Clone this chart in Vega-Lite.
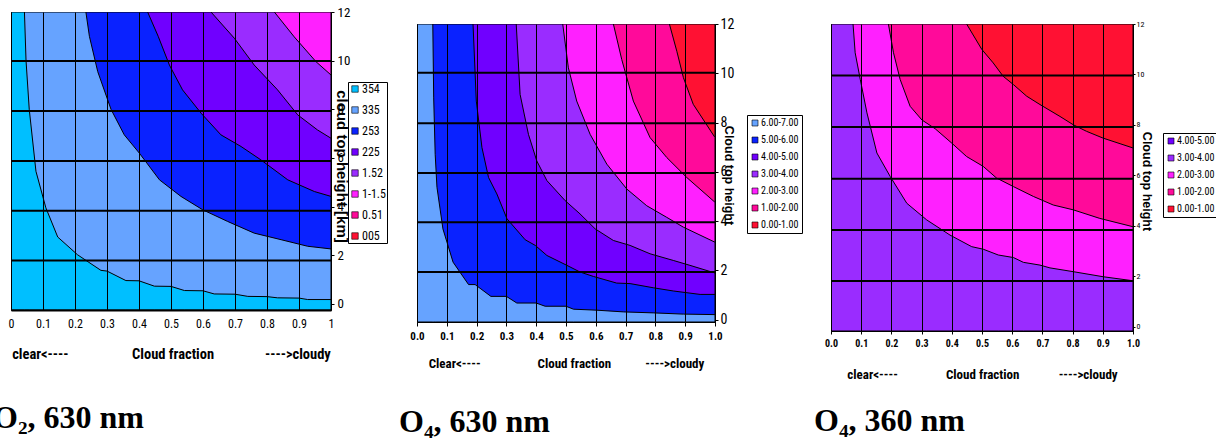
{
  "$schema": "https://vega.github.io/schema/vega-lite/v6.json",
  "background": "white",
  "padding": {"left": -8, "top": 5, "right": 2, "bottom": 0},
  "spacing": 10,
  "resolve": {"scale": {"color": "independent"}, "legend": {"color": "independent"}},
  "config": {
    "view": {"stroke": null},
    "axis": {"labelColor": "black", "titleColor": "black", "tickColor": "black", "domainColor": "black", "gridColor": "black", "gridOpacity": 1, "labelFlush": false, "labelOverlap": false},
    "legend": {"symbolType": "square", "strokeColor": "black", "fillColor": "white", "padding": 2, "labelColor": "black", "symbolStrokeColor": "black", "symbolStrokeWidth": 0.6, "symbolOpacity": 1, "labelOffset": 1, "labelFont": "Roboto Condensed, Liberation Sans Narrow, Liberation Sans, sans-serif", "cornerRadius": 0, "zindex": 2}
  },
  "datasets": {
    "p1": [
      {"b": "1-1.5", "x": 0, "y": 12}, {"b": "1-1.5", "x": 1, "y": 12},
      {"b": "1.52", "x": 0, "y": 12}, {"b": "1.52", "x": 0.823, "y": 12}, {"b": "1.52", "x": 0.885, "y": 10.98}, {"b": "1.52", "x": 0.953, "y": 9.96}, {"b": "1.52", "x": 1, "y": 9.41},
      {"b": "225", "x": 0, "y": 12}, {"b": "225", "x": 0.625, "y": 12}, {"b": "225", "x": 0.698, "y": 10.92}, {"b": "225", "x": 0.76, "y": 9.82}, {"b": "225", "x": 0.833, "y": 8.8}, {"b": "225", "x": 0.896, "y": 7.77}, {"b": "225", "x": 0.958, "y": 7.15}, {"b": "225", "x": 1, "y": 6.81},
      {"b": "253", "x": 0, "y": 12}, {"b": "253", "x": 0.427, "y": 12}, {"b": "253", "x": 0.46, "y": 11.0}, {"b": "253", "x": 0.495, "y": 9.82}, {"b": "253", "x": 0.536, "y": 8.8}, {"b": "253", "x": 0.594, "y": 7.84}, {"b": "253", "x": 0.656, "y": 6.95}, {"b": "253", "x": 0.719, "y": 6.47}, {"b": "253", "x": 0.781, "y": 5.92}, {"b": "253", "x": 0.865, "y": 5.1}, {"b": "253", "x": 0.948, "y": 4.62}, {"b": "253", "x": 1, "y": 4.42},
      {"b": "335", "x": 0, "y": 12}, {"b": "335", "x": 0.234, "y": 12}, {"b": "335", "x": 0.245, "y": 11}, {"b": "335", "x": 0.271, "y": 9.55}, {"b": "335", "x": 0.3125, "y": 8}, {"b": "335", "x": 0.354, "y": 6.95}, {"b": "335", "x": 0.401, "y": 6.2}, {"b": "335", "x": 0.464, "y": 5.1}, {"b": "335", "x": 0.531, "y": 4.42}, {"b": "335", "x": 0.599, "y": 3.87}, {"b": "335", "x": 0.677, "y": 3.39}, {"b": "335", "x": 0.76, "y": 2.91}, {"b": "335", "x": 0.844, "y": 2.64}, {"b": "335", "x": 0.927, "y": 2.37}, {"b": "335", "x": 1, "y": 2.26},
      {"b": "354", "x": 0, "y": 12}, {"b": "354", "x": 0.042, "y": 12}, {"b": "354", "x": 0.047, "y": 10}, {"b": "354", "x": 0.057, "y": 8}, {"b": "354", "x": 0.078, "y": 5.45}, {"b": "354", "x": 0.109, "y": 3.95}, {"b": "354", "x": 0.146, "y": 2.75}, {"b": "354", "x": 0.208, "y": 2.02}, {"b": "354", "x": 0.281, "y": 1.38}, {"b": "354", "x": 0.3, "y": 1.35}, {"b": "354", "x": 0.359, "y": 0.96}, {"b": "354", "x": 0.4, "y": 0.95}, {"b": "354", "x": 0.448, "y": 0.73}, {"b": "354", "x": 0.5, "y": 0.72}, {"b": "354", "x": 0.542, "y": 0.55}, {"b": "354", "x": 0.6, "y": 0.54}, {"b": "354", "x": 0.635, "y": 0.41}, {"b": "354", "x": 0.7, "y": 0.4}, {"b": "354", "x": 0.74, "y": 0.31}, {"b": "354", "x": 0.8, "y": 0.3}, {"b": "354", "x": 0.833, "y": 0.25}, {"b": "354", "x": 0.9, "y": 0.24}, {"b": "354", "x": 0.927, "y": 0.18}, {"b": "354", "x": 1, "y": 0.18}
    ],
    "p2": [
      {"b": "0.00-1.00", "x": 0, "y": 12}, {"b": "0.00-1.00", "x": 1, "y": 12},
      {"b": "1.00-2.00", "x": 0, "y": 12}, {"b": "1.00-2.00", "x": 0.847, "y": 12}, {"b": "1.00-2.00", "x": 0.872, "y": 10.89}, {"b": "1.00-2.00", "x": 0.894, "y": 9.82}, {"b": "1.00-2.00", "x": 0.927, "y": 8.74}, {"b": "1.00-2.00", "x": 1, "y": 7.39},
      {"b": "2.00-3.00", "x": 0, "y": 12}, {"b": "2.00-3.00", "x": 0.659, "y": 12}, {"b": "2.00-3.00", "x": 0.687, "y": 10.56}, {"b": "2.00-3.00", "x": 0.726, "y": 8.87}, {"b": "2.00-3.00", "x": 0.782, "y": 7.39}, {"b": "2.00-3.00", "x": 0.838, "y": 6.58}, {"b": "2.00-3.00", "x": 0.905, "y": 5.77}, {"b": "2.00-3.00", "x": 1, "y": 4.76},
      {"b": "3.00-4.00", "x": 0, "y": 12}, {"b": "3.00-4.00", "x": 0.489, "y": 12}, {"b": "3.00-4.00", "x": 0.508, "y": 10.22}, {"b": "3.00-4.00", "x": 0.536, "y": 8.87}, {"b": "3.00-4.00", "x": 0.581, "y": 7.52}, {"b": "3.00-4.00", "x": 0.637, "y": 6.31}, {"b": "3.00-4.00", "x": 0.704, "y": 5.3}, {"b": "3.00-4.00", "x": 0.771, "y": 4.62}, {"b": "3.00-4.00", "x": 0.838, "y": 4.15}, {"b": "3.00-4.00", "x": 0.894, "y": 3.75}, {"b": "3.00-4.00", "x": 1, "y": 3.14},
      {"b": "4.00-5.00", "x": 0, "y": 12}, {"b": "4.00-5.00", "x": 0.333, "y": 12}, {"b": "4.00-5.00", "x": 0.346, "y": 9.14}, {"b": "4.00-5.00", "x": 0.374, "y": 7.52}, {"b": "4.00-5.00", "x": 0.402, "y": 6.44}, {"b": "4.00-5.00", "x": 0.436, "y": 5.64}, {"b": "4.00-5.00", "x": 0.497, "y": 4.83}, {"b": "4.00-5.00", "x": 0.547, "y": 4.29}, {"b": "4.00-5.00", "x": 0.598, "y": 3.68}, {"b": "4.00-5.00", "x": 0.659, "y": 3.21}, {"b": "4.00-5.00", "x": 0.715, "y": 3.01}, {"b": "4.00-5.00", "x": 0.782, "y": 2.67}, {"b": "4.00-5.00", "x": 0.86, "y": 2.4}, {"b": "4.00-5.00", "x": 0.916, "y": 2.2}, {"b": "4.00-5.00", "x": 1, "y": 1.89},
      {"b": "5.00-6.00", "x": 0, "y": 12}, {"b": "5.00-6.00", "x": 0.188, "y": 12}, {"b": "5.00-6.00", "x": 0.199, "y": 8.87}, {"b": "5.00-6.00", "x": 0.218, "y": 6.98}, {"b": "5.00-6.00", "x": 0.24, "y": 5.77}, {"b": "5.00-6.00", "x": 0.268, "y": 5.1}, {"b": "5.00-6.00", "x": 0.302, "y": 4.09}, {"b": "5.00-6.00", "x": 0.363, "y": 3.24}, {"b": "5.00-6.00", "x": 0.397, "y": 3.01}, {"b": "5.00-6.00", "x": 0.436, "y": 2.6}, {"b": "5.00-6.00", "x": 0.503, "y": 2.2}, {"b": "5.00-6.00", "x": 0.547, "y": 1.93}, {"b": "5.00-6.00", "x": 0.592, "y": 1.75}, {"b": "5.00-6.00", "x": 0.67, "y": 1.48}, {"b": "5.00-6.00", "x": 0.715, "y": 1.46}, {"b": "5.00-6.00", "x": 0.793, "y": 1.29}, {"b": "5.00-6.00", "x": 0.86, "y": 1.16}, {"b": "5.00-6.00", "x": 0.95, "y": 1.02}, {"b": "5.00-6.00", "x": 1, "y": 1.02},
      {"b": "6.00-7.00", "x": 0, "y": 12}, {"b": "6.00-7.00", "x": 0.053, "y": 12}, {"b": "6.00-7.00", "x": 0.056, "y": 9}, {"b": "6.00-7.00", "x": 0.061, "y": 6.71}, {"b": "6.00-7.00", "x": 0.067, "y": 5.37}, {"b": "6.00-7.00", "x": 0.087, "y": 3.68}, {"b": "6.00-7.00", "x": 0.121, "y": 2.33}, {"b": "6.00-7.00", "x": 0.173, "y": 1.42}, {"b": "6.00-7.00", "x": 0.195, "y": 1.42}, {"b": "6.00-7.00", "x": 0.248, "y": 0.94}, {"b": "6.00-7.00", "x": 0.3, "y": 0.94}, {"b": "6.00-7.00", "x": 0.335, "y": 0.67}, {"b": "6.00-7.00", "x": 0.4, "y": 0.67}, {"b": "6.00-7.00", "x": 0.43, "y": 0.54}, {"b": "6.00-7.00", "x": 0.5, "y": 0.54}, {"b": "6.00-7.00", "x": 0.525, "y": 0.42}, {"b": "6.00-7.00", "x": 0.603, "y": 0.38}, {"b": "6.00-7.00", "x": 0.693, "y": 0.31}, {"b": "6.00-7.00", "x": 0.793, "y": 0.27}, {"b": "6.00-7.00", "x": 0.894, "y": 0.22}, {"b": "6.00-7.00", "x": 1, "y": 0.2}
    ],
    "p3": [
      {"b": "0.00-1.00", "x": 0, "y": 12}, {"b": "0.00-1.00", "x": 1, "y": 12},
      {"b": "1.00-2.00", "x": 0, "y": 12}, {"b": "1.00-2.00", "x": 0.449, "y": 12}, {"b": "1.00-2.00", "x": 0.499, "y": 11}, {"b": "1.00-2.00", "x": 0.537, "y": 10.46}, {"b": "1.00-2.00", "x": 0.57, "y": 9.93}, {"b": "1.00-2.00", "x": 0.604, "y": 9.6}, {"b": "1.00-2.00", "x": 0.648, "y": 9.14}, {"b": "1.00-2.00", "x": 0.692, "y": 8.81}, {"b": "1.00-2.00", "x": 0.758, "y": 8.34}, {"b": "1.00-2.00", "x": 0.802, "y": 8.01}, {"b": "1.00-2.00", "x": 0.846, "y": 7.75}, {"b": "1.00-2.00", "x": 0.901, "y": 7.48}, {"b": "1.00-2.00", "x": 1, "y": 7.09},
      {"b": "2.00-3.00", "x": 0, "y": 12}, {"b": "2.00-3.00", "x": 0.19, "y": 12}, {"b": "2.00-3.00", "x": 0.207, "y": 10.86}, {"b": "2.00-3.00", "x": 0.229, "y": 9.8}, {"b": "2.00-3.00", "x": 0.262, "y": 8.74}, {"b": "2.00-3.00", "x": 0.301, "y": 8.2}, {"b": "2.00-3.00", "x": 0.345, "y": 7.85}, {"b": "2.00-3.00", "x": 0.4, "y": 7.28}, {"b": "2.00-3.00", "x": 0.449, "y": 6.75}, {"b": "2.00-3.00", "x": 0.504, "y": 6.36}, {"b": "2.00-3.00", "x": 0.548, "y": 5.9}, {"b": "2.00-3.00", "x": 0.604, "y": 5.56}, {"b": "2.00-3.00", "x": 0.67, "y": 5.17}, {"b": "2.00-3.00", "x": 0.736, "y": 4.83}, {"b": "2.00-3.00", "x": 0.802, "y": 4.64}, {"b": "2.00-3.00", "x": 0.89, "y": 4.3}, {"b": "2.00-3.00", "x": 1, "y": 3.97},
      {"b": "3.00-4.00", "x": 0, "y": 12}, {"b": "3.00-4.00", "x": 0.073, "y": 12}, {"b": "3.00-4.00", "x": 0.08, "y": 10.86}, {"b": "3.00-4.00", "x": 0.097, "y": 9.8}, {"b": "3.00-4.00", "x": 0.119, "y": 8.48}, {"b": "3.00-4.00", "x": 0.152, "y": 6.89}, {"b": "3.00-4.00", "x": 0.196, "y": 5.96}, {"b": "3.00-4.00", "x": 0.251, "y": 4.9}, {"b": "3.00-4.00", "x": 0.317, "y": 4.24}, {"b": "3.00-4.00", "x": 0.394, "y": 3.64}, {"b": "3.00-4.00", "x": 0.466, "y": 3.18}, {"b": "3.00-4.00", "x": 0.504, "y": 3.08}, {"b": "3.00-4.00", "x": 0.554, "y": 2.85}, {"b": "3.00-4.00", "x": 0.604, "y": 2.75}, {"b": "3.00-4.00", "x": 0.637, "y": 2.56}, {"b": "3.00-4.00", "x": 0.692, "y": 2.45}, {"b": "3.00-4.00", "x": 0.725, "y": 2.34}, {"b": "3.00-4.00", "x": 0.802, "y": 2.19}, {"b": "3.00-4.00", "x": 0.901, "y": 1.99}, {"b": "3.00-4.00", "x": 1, "y": 1.83}
    ]
  },
  "hconcat": [
    {
      "width": 320, "height": 298,
      "view": {"stroke": "black", "strokeWidth": 1},
      "title": {"text": "O₂, 630 nm", "orient": "bottom", "anchor": "start", "frame": "group", "dx": -18, "offset": 42, "font": "Liberation Serif, Times New Roman, serif", "fontSize": 32, "fontWeight": "bold", "color": "black"},
      "data": {"name": "p1"},
      "layer": [
        {
          "encoding": {
            "x": {"field": "x", "type": "quantitative", "scale": {"domain": [0, 1], "nice": false, "zero": false},
              "axis": {"values": [0, 0.1, 0.2, 0.3, 0.4, 0.5, 0.6, 0.7, 0.8, 0.9, 1], "format": "~g", "grid": true, "gridWidth": 1, "ticks": false, "labelPadding": 8, "labelFont": "Roboto Condensed, Liberation Sans Narrow, Liberation Sans, sans-serif", "labelFontSize": 12, "domainWidth": 2, "title": "clear<----\u2003\u2003\u2003\u2003\u2003Cloud fraction\u2003\u2003\u2003\u2003---->cloudy", "titleFont": "Roboto Condensed, Liberation Sans Narrow, Liberation Sans, sans-serif", "titleFontSize": 14.5, "titleFontWeight": "bold", "titlePadding": 18, "zindex": 1}},
            "y": {"field": "y", "type": "quantitative", "scale": {"domain": [-0.25, 12], "nice": false, "zero": false},
              "axis": {"orient": "right", "values": [0, 2, 4, 6, 8, 10, 12], "grid": false, "ticks": true, "tickSize": 3, "labelPadding": 3, "labelFont": "Roboto Condensed, Liberation Sans Narrow, Liberation Sans, sans-serif", "labelFontSize": 13, "domain": false, "title": "cloud top height [km]", "titleFont": "Liberation Sans, Arial, sans-serif", "titleFontSize": 15, "titleFontWeight": "bold", "titleAngle": 90, "titleX": 10, "titleY": 154, "titleBaseline": "middle", "titleAlign": "center", "zindex": 1}},
            "y2": {"datum": -0.25},
            "color": {"field": "b", "type": "nominal",
              "scale": {"domain": ["354", "335", "253", "225", "1.52", "1-1.5", "0.51", "005"], "range": ["#00BFFF", "#66A3FF", "#0A22FF", "#7000FF", "#9A2CFF", "#FF20FF", "#FF0A9A", "#FF1133"]},
              "legend": {"orient": "none", "legendX": 337, "legendY": 70, "title": null, "direction": "vertical", "symbolSize": 42, "labelFontSize": 12, "rowPadding": 9, "padding": 1}}
          },
          "layer": [
            {"transform": [{"filter": "datum.b === '1-1.5'"}], "mark": {"type": "area", "opacity": 1, "stroke": "black", "strokeWidth": 1, "clip": true}},
            {"transform": [{"filter": "datum.b === '1.52'"}], "mark": {"type": "area", "opacity": 1, "stroke": "black", "strokeWidth": 1, "clip": true}},
            {"transform": [{"filter": "datum.b === '225'"}], "mark": {"type": "area", "opacity": 1, "stroke": "black", "strokeWidth": 1, "clip": true}},
            {"transform": [{"filter": "datum.b === '253'"}], "mark": {"type": "area", "opacity": 1, "stroke": "black", "strokeWidth": 1, "clip": true}},
            {"transform": [{"filter": "datum.b === '335'"}], "mark": {"type": "area", "opacity": 1, "stroke": "black", "strokeWidth": 1, "clip": true}},
            {"transform": [{"filter": "datum.b === '354'"}], "mark": {"type": "area", "opacity": 1, "stroke": "black", "strokeWidth": 1, "clip": true}}
          ]
        },
        {"data": {"values": [{}]}, "mark": {"type": "rule", "color": "black", "strokeWidth": 2}, "encoding": {"y": {"datum": 1.78}}},
        {"data": {"values": [{}]}, "mark": {"type": "rule", "color": "black", "strokeWidth": 2}, "encoding": {"y": {"datum": 3.83}}},
        {"data": {"values": [{}]}, "mark": {"type": "rule", "color": "black", "strokeWidth": 2}, "encoding": {"y": {"datum": 5.88}}},
        {"data": {"values": [{}]}, "mark": {"type": "rule", "color": "black", "strokeWidth": 2}, "encoding": {"y": {"datum": 7.93}}},
        {"data": {"values": [{}]}, "mark": {"type": "rule", "color": "black", "strokeWidth": 2}, "encoding": {"y": {"datum": 9.99}}}
      ]
    },
    {
      "spacing": 0,
      "vconcat": [
        {"data": {"values": []}, "mark": "point", "width": 1, "height": 4},
        {
          "width": 298, "height": 298,
          "view": {"stroke": "black", "strokeWidth": 1},
          "title": {"text": "O₄, 630 nm", "orient": "bottom", "anchor": "start", "frame": "group", "dx": -18, "offset": 37, "font": "Liberation Serif, Times New Roman, serif", "fontSize": 32, "fontWeight": "bold", "color": "black"},
          "data": {"name": "p2"},
          "layer": [
            {
              "encoding": {
                "x": {"field": "x", "type": "quantitative", "scale": {"domain": [0, 1], "nice": false, "zero": false},
                  "axis": {"values": [0, 0.1, 0.2, 0.3, 0.4, 0.5, 0.6, 0.7, 0.8, 0.9, 1], "format": ".1f", "grid": true, "gridWidth": 1, "ticks": true, "tickSize": 4, "labelPadding": 4, "labelFont": "Roboto Condensed, Liberation Sans Narrow, Liberation Sans, sans-serif", "labelFontSize": 11, "labelFontWeight": "bold", "domainWidth": 1, "title": "Clear<----\u2003\u2003\u2003\u2003\u2003Cloud fraction\u2003\u2003\u2003---->cloudy", "titleFont": "Roboto Condensed, Liberation Sans Narrow, Liberation Sans, sans-serif", "titleFontSize": 13, "titleFontWeight": "bold", "titlePadding": 16, "zindex": 1}},
                "y": {"field": "y", "type": "quantitative", "scale": {"domain": [-0.1, 12], "nice": false, "zero": false},
                  "axis": {"orient": "right", "values": [0, 2, 4, 6, 8, 10, 12], "grid": false, "ticks": true, "tickSize": 3, "labelPadding": 2, "labelFont": "Roboto Condensed, Liberation Sans Narrow, Liberation Sans, sans-serif", "labelFontSize": 14, "domain": false, "title": "Cloud top height", "titleFont": "Liberation Sans, Arial, sans-serif", "titleFontSize": 12.5, "titleFontWeight": "bold", "titleAngle": 90, "titleX": 13, "titleY": 151, "titleBaseline": "middle", "titleAlign": "center", "zindex": 1}},
                "y2": {"datum": -0.1},
                "color": {"field": "b", "type": "nominal",
                  "scale": {"domain": ["6.00-7.00", "5.00-6.00", "4.00-5.00", "3.00-4.00", "2.00-3.00", "1.00-2.00", "0.00-1.00"], "range": ["#66A3FF", "#0A22FF", "#7000FF", "#9A2CFF", "#FF20FF", "#FF0A9A", "#FF1133"]},
                  "legend": {"orient": "none", "legendX": 330, "legendY": 103, "title": null, "direction": "vertical", "symbolSize": 36, "labelFontSize": 10, "rowPadding": 7, "padding": 3}}
              },
              "layer": [
                {"transform": [{"filter": "datum.b === '0.00-1.00'"}], "mark": {"type": "area", "opacity": 1, "stroke": "black", "strokeWidth": 1, "clip": true}},
                {"transform": [{"filter": "datum.b === '1.00-2.00'"}], "mark": {"type": "area", "opacity": 1, "stroke": "black", "strokeWidth": 1, "clip": true}},
                {"transform": [{"filter": "datum.b === '2.00-3.00'"}], "mark": {"type": "area", "opacity": 1, "stroke": "black", "strokeWidth": 1, "clip": true}},
                {"transform": [{"filter": "datum.b === '3.00-4.00'"}], "mark": {"type": "area", "opacity": 1, "stroke": "black", "strokeWidth": 1, "clip": true}},
                {"transform": [{"filter": "datum.b === '4.00-5.00'"}], "mark": {"type": "area", "opacity": 1, "stroke": "black", "strokeWidth": 1, "clip": true}},
                {"transform": [{"filter": "datum.b === '5.00-6.00'"}], "mark": {"type": "area", "opacity": 1, "stroke": "black", "strokeWidth": 1, "clip": true}},
                {"transform": [{"filter": "datum.b === '6.00-7.00'"}], "mark": {"type": "area", "opacity": 1, "stroke": "black", "strokeWidth": 1, "clip": true}}
              ]
            },
            {"data": {"values": [{}]}, "mark": {"type": "rule", "color": "black", "strokeWidth": 2}, "encoding": {"y": {"datum": 1.93}}},
            {"data": {"values": [{}]}, "mark": {"type": "rule", "color": "black", "strokeWidth": 2}, "encoding": {"y": {"datum": 3.95}}},
            {"data": {"values": [{}]}, "mark": {"type": "rule", "color": "black", "strokeWidth": 2}, "encoding": {"y": {"datum": 5.95}}},
            {"data": {"values": [{}]}, "mark": {"type": "rule", "color": "black", "strokeWidth": 2}, "encoding": {"y": {"datum": 7.97}}},
            {"data": {"values": [{}]}, "mark": {"type": "rule", "color": "black", "strokeWidth": 2}, "encoding": {"y": {"datum": 10.02}}}
          ]
        }
      ]
    },
    {
      "spacing": 0,
      "vconcat": [
        {"data": {"values": []}, "mark": "point", "width": 1, "height": 7},
        {
          "width": 302, "height": 307,
          "view": {"stroke": "black", "strokeWidth": 1},
          "title": {"text": "O₄, 360 nm", "orient": "bottom", "anchor": "start", "frame": "group", "dx": -17, "offset": 25, "font": "Liberation Serif, Times New Roman, serif", "fontSize": 32, "fontWeight": "bold", "color": "black"},
          "data": {"name": "p3"},
          "layer": [
            {
              "encoding": {
                "x": {"field": "x", "type": "quantitative", "scale": {"domain": [0, 1], "nice": false, "zero": false},
                  "axis": {"values": [0, 0.1, 0.2, 0.3, 0.4, 0.5, 0.6, 0.7, 0.8, 0.9, 1], "format": ".1f", "grid": true, "gridWidth": 1, "ticks": true, "tickSize": 3, "labelPadding": 4, "labelFont": "Roboto Condensed, Liberation Sans Narrow, Liberation Sans, sans-serif", "labelFontSize": 10, "labelFontWeight": "bold", "domainWidth": 1, "title": "clear<----\u2003\u2003\u2003\u2003\u2009Cloud fraction\u2003\u2003\u2003\u2009\u2009---->cloudy", "titleFont": "Roboto Condensed, Liberation Sans Narrow, Liberation Sans, sans-serif", "titleFontSize": 13, "titleFontWeight": "bold", "titlePadding": 20, "zindex": 1}},
                "y": {"field": "y", "type": "quantitative", "scale": {"domain": [-0.16, 12], "nice": false, "zero": false},
                  "axis": {"orient": "right", "values": [0, 2, 4, 6, 8, 10, 12], "grid": false, "ticks": true, "tickSize": 2, "labelPadding": 1, "labelFont": "Roboto Condensed, Liberation Sans Narrow, Liberation Sans, sans-serif", "labelFontSize": 8, "domain": false, "title": "Cloud top height", "titleFont": "Liberation Sans, Arial, sans-serif", "titleFontSize": 12.5, "titleFontWeight": "bold", "titleAngle": 90, "titleX": 13, "titleY": 157, "titleBaseline": "middle", "titleAlign": "center", "zindex": 1}},
                "y2": {"datum": -0.16},
                "color": {"field": "b", "type": "nominal",
                  "scale": {"domain": ["4.00-5.00", "3.00-4.00", "2.00-3.00", "1.00-2.00", "0.00-1.00"], "range": ["#7000FF", "#9A2CFF", "#FF20FF", "#FF0A9A", "#FF1133"]},
                  "legend": {"orient": "none", "legendX": 332, "legendY": 121, "title": null, "direction": "vertical", "symbolSize": 36, "labelFontSize": 10, "rowPadding": 7, "padding": 3}}
              },
              "layer": [
                {"transform": [{"filter": "datum.b === '0.00-1.00'"}], "mark": {"type": "area", "opacity": 1, "stroke": "black", "strokeWidth": 1, "clip": true}},
                {"transform": [{"filter": "datum.b === '1.00-2.00'"}], "mark": {"type": "area", "opacity": 1, "stroke": "black", "strokeWidth": 1, "clip": true}},
                {"transform": [{"filter": "datum.b === '2.00-3.00'"}], "mark": {"type": "area", "opacity": 1, "stroke": "black", "strokeWidth": 1, "clip": true}},
                {"transform": [{"filter": "datum.b === '3.00-4.00'"}], "mark": {"type": "area", "opacity": 1, "stroke": "black", "strokeWidth": 1, "clip": true}}
              ]
            },
            {"data": {"values": [{}]}, "mark": {"type": "rule", "color": "black", "strokeWidth": 2}, "encoding": {"y": {"datum": 1.82}}},
            {"data": {"values": [{}]}, "mark": {"type": "rule", "color": "black", "strokeWidth": 2}, "encoding": {"y": {"datum": 3.84}}},
            {"data": {"values": [{}]}, "mark": {"type": "rule", "color": "black", "strokeWidth": 2}, "encoding": {"y": {"datum": 5.87}}},
            {"data": {"values": [{}]}, "mark": {"type": "rule", "color": "black", "strokeWidth": 2}, "encoding": {"y": {"datum": 7.92}}},
            {"data": {"values": [{}]}, "mark": {"type": "rule", "color": "black", "strokeWidth": 2}, "encoding": {"y": {"datum": 9.96}}}
          ]
        }
      ]
    }
  ]
}
